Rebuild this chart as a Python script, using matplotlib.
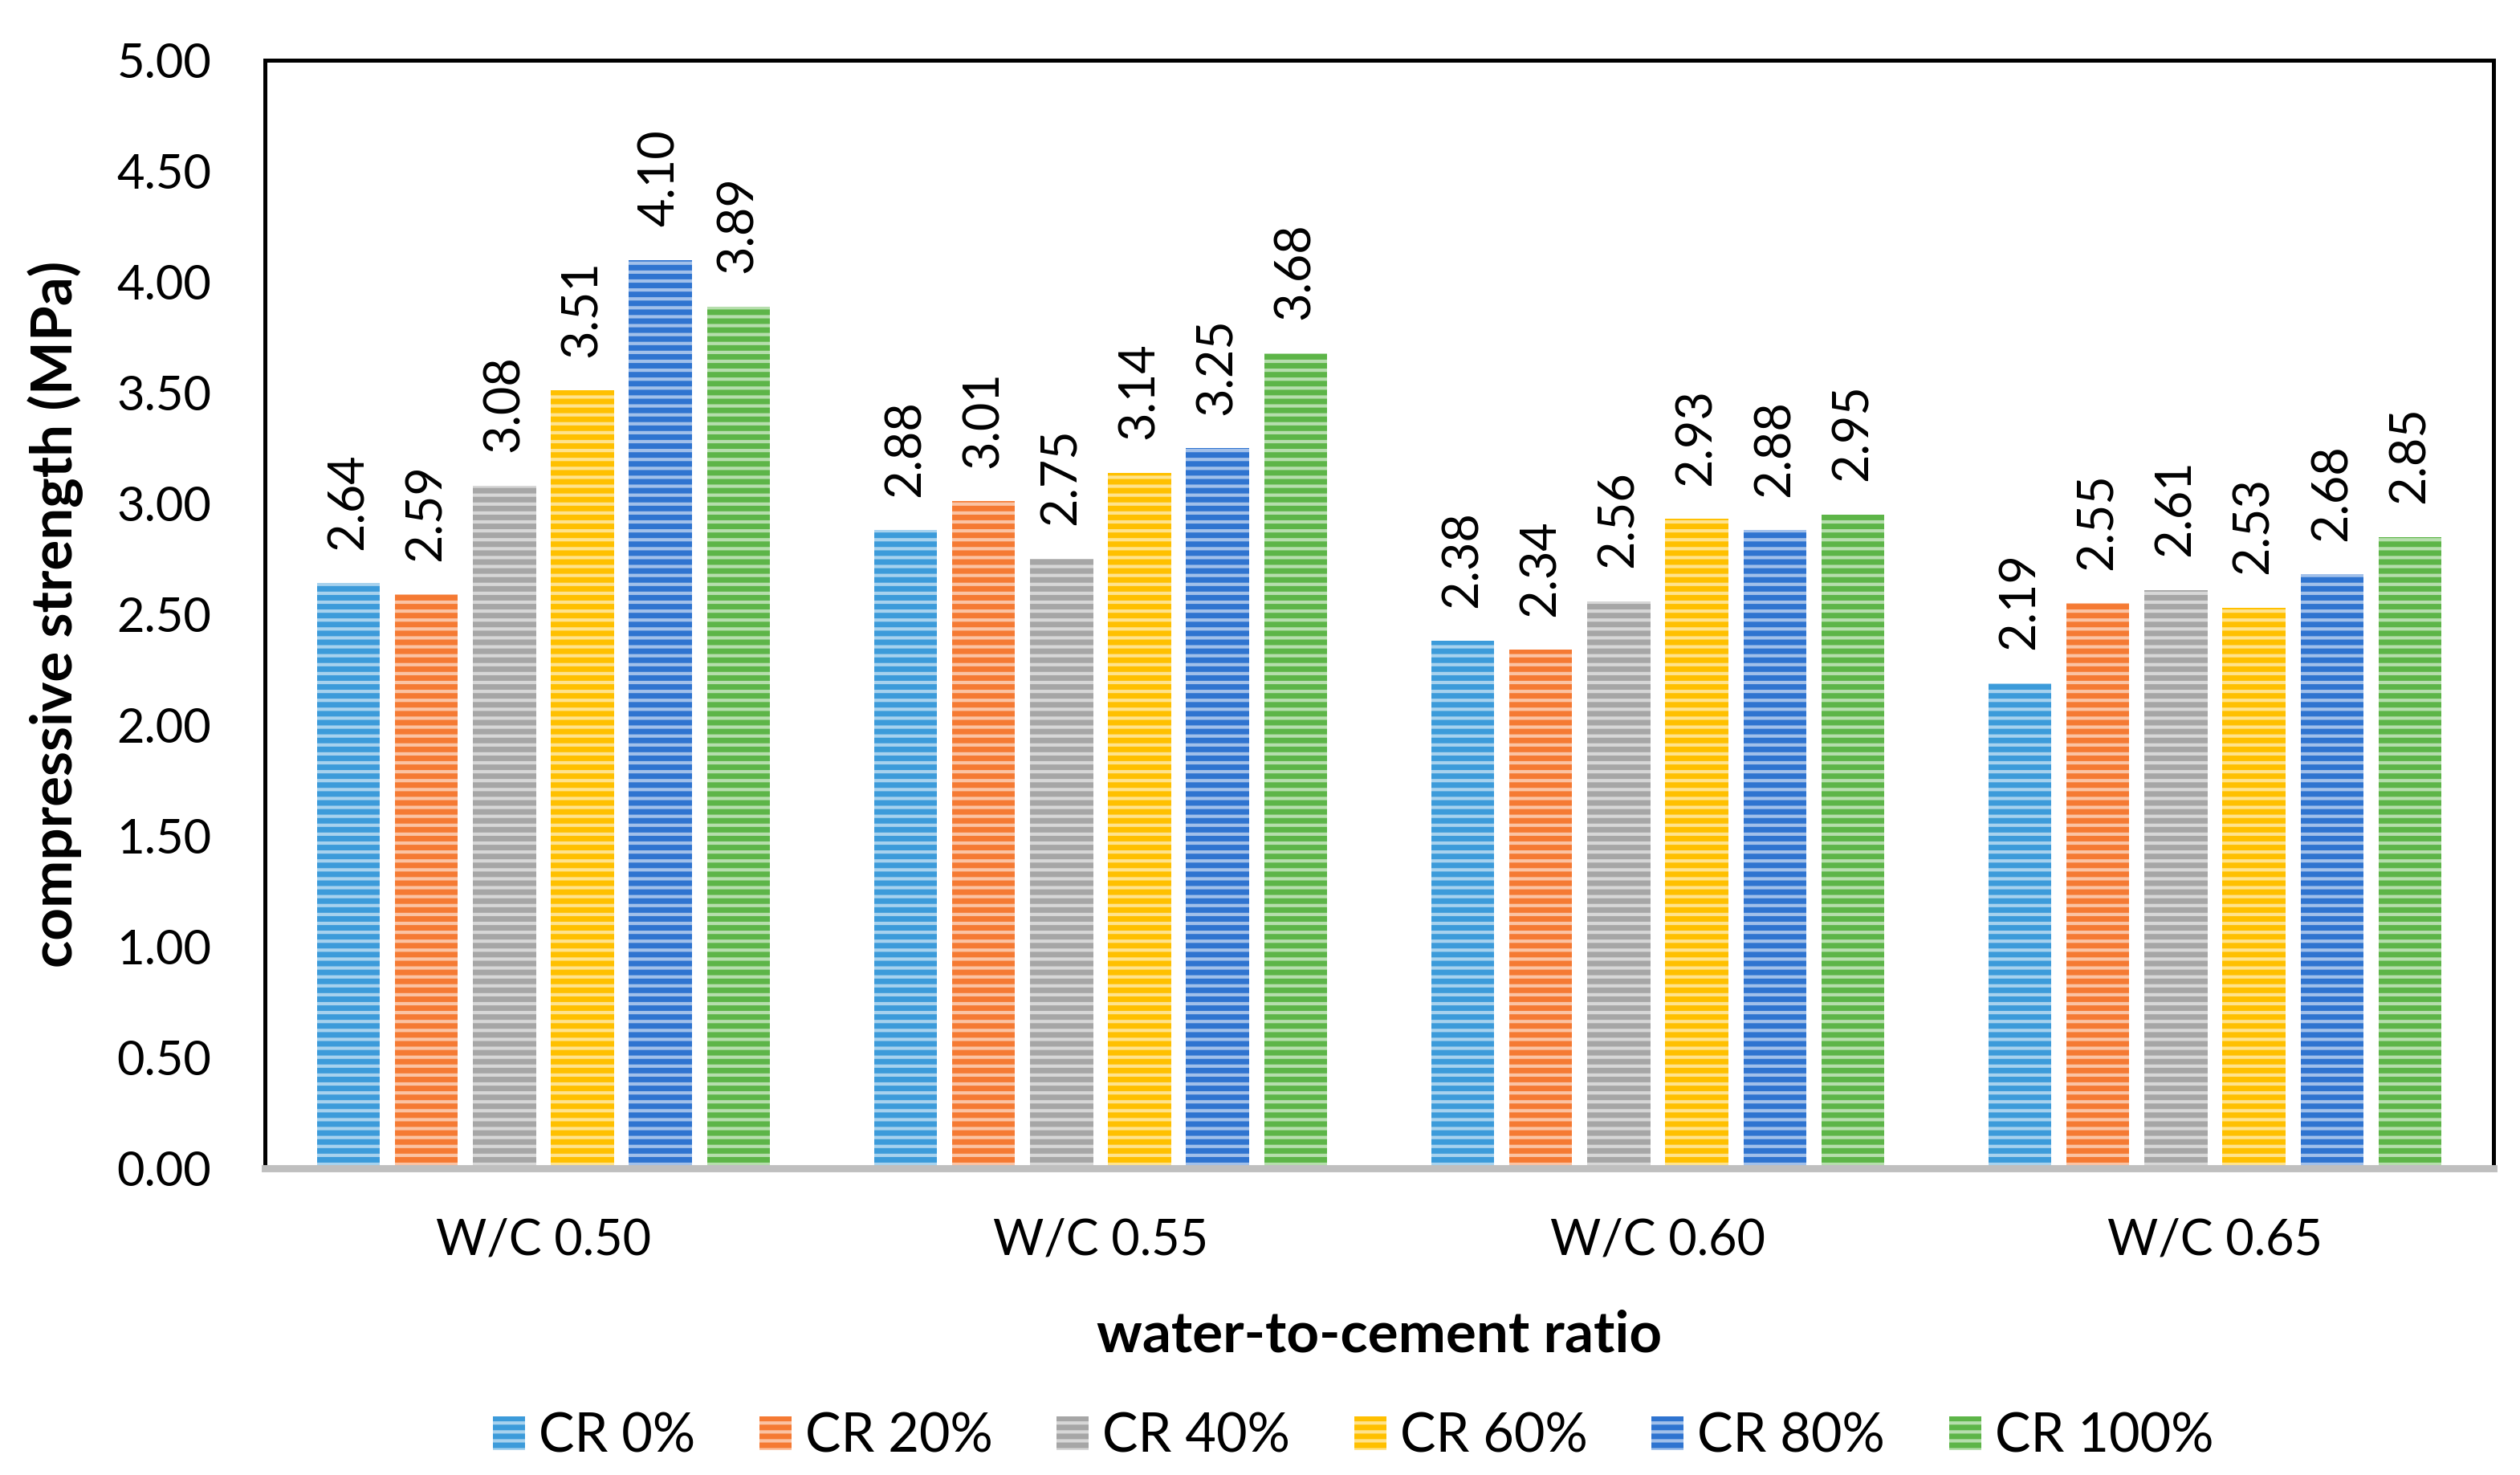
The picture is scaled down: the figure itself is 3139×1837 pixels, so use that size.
import matplotlib
matplotlib.use("Agg")
import matplotlib.pyplot as plt
import numpy as np
from matplotlib.colors import to_rgb

categories = ["W/C 0.50", "W/C 0.55", "W/C 0.60", "W/C 0.65"]
series_names = ["CR 0%", "CR 20%", "CR 40%", "CR 60%", "CR 80%", "CR 100%"]
cr0 = [2.64, 2.88, 2.38, 2.19]
cr20 = [2.59, 3.01, 2.34, 2.55]
cr40 = [3.08, 2.75, 2.56, 2.61]
cr60 = [3.51, 3.14, 2.93, 2.53]
cr80 = [4.10, 3.25, 2.88, 2.68]
cr100 = [3.89, 3.68, 2.95, 2.85]
series = [cr0, cr20, cr40, cr60, cr80, cr100]
colors = ["#3C9BDA", "#F57A33", "#A6A6A6", "#FFC000", "#2F74D0", "#5DB548"]
yticks = [0.0, 0.5, 1.0, 1.5, 2.0, 2.5, 3.0, 3.5, 4.0, 4.5, 5.0]

plt.rcParams['font.family'] = ['Lato', 'DejaVu Sans']
plt.rcParams['hatch.linewidth'] = 1.5

def tint(c, f=0.55):
    r = np.array(to_rgb(c))
    return tuple(r + (1 - r) * f)

fig = plt.figure(figsize=(15.695, 9.185), dpi=200)
ax = fig.add_axes([0.1051, 0.208, 0.9895 - 0.1051, 0.959 - 0.208])

x = np.arange(len(categories))
step = 0.14
width = 0.113
handles = []
for i, (vals, name, c) in enumerate(zip(series, series_names, colors)):
    pos = x + (i - 2.5) * step
    bars = ax.bar(pos, vals, width, color=c, edgecolor=tint(c), linewidth=0,
                  hatch='---', label=name)
    handles.append(bars)
    ax.bar_label(bars, fmt='%.2f', rotation=90, padding=15, fontsize=22,
                 color='black')

ax.set_xlim(-0.5, len(categories) - 0.5)
ax.set_ylim(0, 5)
ax.set_yticks(yticks)
ax.set_yticklabels([f"{v:.2f}" for v in yticks])
ax.set_xticks(x)
ax.set_xticklabels(categories)
ax.tick_params(axis='y', length=0, pad=24, labelsize=21.5)
ax.tick_params(axis='x', length=0, pad=22, labelsize=22)

for s in ['top', 'left', 'right']:
    ax.spines[s].set_color('black')
    ax.spines[s].set_linewidth(1.8)
ax.spines['bottom'].set_color('#BFBFBF')
ax.spines['bottom'].set_linewidth(3.2)

ax.set_ylabel("compressive strength (MPa)", fontsize=25.5, fontweight='bold')
ax.yaxis.set_label_coords(-0.0814, 0.5)
ax.set_xlabel("water-to-cement ratio", fontsize=25.5, fontweight='bold')
ax.xaxis.set_label_coords(0.5, -0.127)

fig.legend(handles=handles, labels=series_names, loc='center',
           bbox_to_anchor=(0.537, 0.026), ncol=6, frameon=False,
           fontsize=24, handlelength=0.6, handleheight=0.6,
           handletextpad=0.25, columnspacing=1.2)

fig.savefig("out.png", dpi=200)
